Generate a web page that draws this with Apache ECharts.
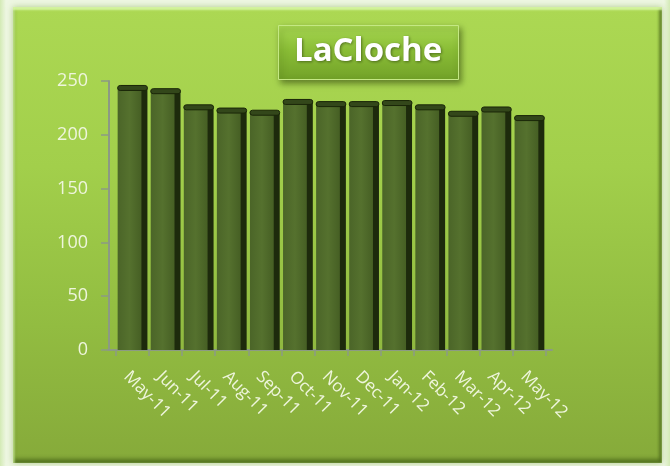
<!DOCTYPE html>
<html><head><meta charset="utf-8">
<script src="https://cdn.jsdelivr.net/npm/echarts@6/dist/echarts.min.js"></script>
<style>
html,body{margin:0;padding:0;}
body{width:670px;height:466px;position:relative;overflow:hidden;background:linear-gradient(90deg,#d3eab5 0px,#eef7e2 6px,#eef7e2 664px,#d3eab5 670px);}
#panel{position:absolute;left:13px;top:7px;width:649px;height:456px;
  background:linear-gradient(180deg,#acd853 0%,#a2cf4b 35%,#94bf42 65%,#86aa3a 100%);
  box-shadow: inset 0 3px 2px rgba(220,250,170,0.85), inset 2px 0 2px rgba(200,235,150,0.6), inset -3px 0 3px rgba(80,110,30,0.7), inset 0 -4px 4px rgba(70,100,25,0.8), 0 0 6px rgba(120,160,60,0.5);}
#c{position:absolute;left:0;top:0;width:670px;height:466px;}
</style>
</head><body><div id="panel"></div><div id="c"></div>
<script>
var categories = ['May-11','Jun-11','Jul-11','Aug-11','Sep-11','Oct-11','Nov-11','Dec-11','Jan-12','Feb-12','Mar-12','Apr-12','May-12'];
var values = [244, 241, 226, 223, 221, 231, 229, 229, 230, 226, 220, 224, 216];
var yTicks = [0, 50, 100, 150, 200, 250];

var axisColor = '#8c9a84';
var chart = echarts.init(document.getElementById('c'));
chart.setOption({
  backgroundColor: 'transparent',
  title: {
    text: 'LaCloche', left: 278, top: 25,
    padding: [10, 16, 12, 16],
    backgroundColor: {type:'linear', x:0, y:0, x2:0, y2:1, colorStops:[{offset:0,color:'#a8d852'},{offset:0.45,color:'#8abd36'},{offset:1,color:'#72a228'}]},
    borderColor: '#c4e884', borderWidth: 1,
    shadowColor: 'rgba(40,60,10,0.55)', shadowBlur: 6, shadowOffsetX: 2, shadowOffsetY: 3,
    textStyle: {color:'#ffffff', fontSize: 33, fontWeight:'bold', fontFamily:'Open Sans, Liberation Sans, sans-serif',
      textShadowColor:'rgba(40,60,10,0.6)', textShadowBlur:3, textShadowOffsetX:1, textShadowOffsetY:1}
  },
  grid: [
    {left: 116, right: 124, top: 81, bottom: 116, containLabel: false},
    {left: 108, right: 118, top: 81, bottom: 116, containLabel: false}
  ],
  xAxis: [{
    type: 'category', data: categories, gridIndex: 0,
    axisLine: {show:true, lineStyle:{color:axisColor, width:2}},
    axisTick: {show:true, length:6, lineStyle:{color:axisColor, width:1.5}},
    axisLabel: {rotate: -45, color:'#eef5dc', fontSize: 17, fontFamily:'Open Sans, Liberation Sans, sans-serif', margin: 18, interval: 0, align:'left', verticalAlign:'top'}
  }, {
    type: 'value', gridIndex: 1, min: 0, max: 1,
    axisLine: {show:true, lineStyle:{color:axisColor, width:2}},
    axisTick: {show:false}, axisLabel: {show:false}, splitLine: {show:false}
  }],
  yAxis: [{
    type: 'value', min: 0, max: 250, interval: 50, offset: 7, gridIndex: 0,
    axisLine: {show:true, lineStyle:{color:axisColor, width:2}},
    axisTick: {show:true, length:8, lineStyle:{color:axisColor, width:1.5}},
    splitLine: {show:false},
    axisLabel: {color:'#eef5dc', fontSize: 18, fontFamily:'Open Sans, Liberation Sans, sans-serif', margin: 21,
      formatter: function(v){ return yTicks.indexOf(v) >= 0 ? String(v) : ''; }}
  }, {
    type: 'value', gridIndex: 1, min: 0, max: 1, show: false
  }],
  series: [{
    type: 'custom',
    xAxisIndex: 0, yAxisIndex: 0,
    data: values,
    renderItem: function(params, api) {
      var top = api.coord([api.value(0), api.value(1)]);
      var base = api.coord([api.value(0), 0]);
      var band = api.size([1, 0])[0];
      var w = band * 0.9;
      var x0 = top[0] - w / 2;
      var frontW = w - 6;
      var h = base[1] - top[1];
      return {
        type: 'group',
        children: [
          {type:'rect', shape:{x:x0 + frontW - 1, y: top[1] + 1, width: 7, height: h - 1},
            style:{fill:'#1d2a0c'}},
          {type:'rect', shape:{x:x0, y: top[1], width: frontW, height: h},
            style:{fill:{type:'linear', x:0, y:0, x2:1, y2:0, colorStops:[{offset:0,color:'#4b6528'},{offset:0.5,color:'#55712e'},{offset:1,color:'#465f24'}]}}},
          {type:'rect', shape:{x:x0, y: top[1] - 2, width: frontW + 6, height: 5, r: 3},
            style:{fill:'#33471a', stroke:'#1a2608', lineWidth:1}}
        ]
      };
    }
  }]
});
</script></body></html>
